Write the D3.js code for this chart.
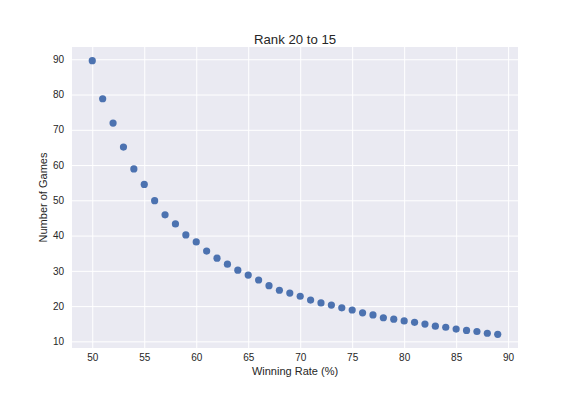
<!DOCTYPE html>
<html>
<head>
<meta charset="utf-8">
<script src="https://cdn.jsdelivr.net/npm/d3@7"></script>
<style>
  html, body { margin: 0; padding: 0; background: #ffffff; }
  svg { display: block; font-family: "Liberation Sans", Arial, sans-serif; }
</style>
</head>
<body>
<svg id="chart" width="576" height="396"></svg>
<script>
const title = "Rank 20 to 15";
const xLabel = "Winning Rate (%)";
const yLabel = "Number of Games";
const winRates = [50,51,52,53,54,55,56,57,58,59,60,61,62,63,64,65,66,67,68,69,
                  70,71,72,73,74,75,76,77,78,79,80,81,82,83,84,85,86,87,88,89];
const games = [89.6,78.8,71.9,65.1,58.9,54.5,49.9,45.9,43.3,40.2,
               38.2,35.6,33.6,31.9,30.2,28.8,27.4,25.8,24.5,23.7,
               22.8,21.7,20.9,20.3,19.5,18.9,18.1,17.5,16.7,16.3,
               15.8,15.4,14.9,14.3,14.0,13.5,13.1,12.8,12.3,12.0];
const xTicks = [50,55,60,65,70,75,80,85,90];
const yTicks = [10,20,30,40,50,60,70,80,90];

const svg = d3.select("#chart");
const L = 72, R = 518, T = 47, B = 348;

function padDomain(arr) {
  const lo = d3.min(arr), hi = d3.max(arr), p = (hi - lo) * 0.05;
  return [lo - p, hi + p];
}
const x = d3.scaleLinear().domain(padDomain(winRates)).range([L, R]);
const y = d3.scaleLinear().domain(padDomain(games)).range([B, T]);

svg.append("rect").attr("x", L).attr("y", T).attr("width", R - L).attr("height", B - T)
  .attr("fill", "#EAEAF2");

const gx = svg.append("g").attr("transform", `translate(0,${B})`)
  .call(d3.axisBottom(x).tickValues(xTicks).tickSize(-(B - T)).tickPadding(6).tickFormat(d3.format("d")));
const gy = svg.append("g").attr("transform", `translate(${L},0)`)
  .call(d3.axisLeft(y).tickValues(yTicks).tickSize(-(R - L)).tickPadding(8).tickFormat(d3.format("d")));
[gx, gy].forEach(g => {
  g.select(".domain").remove();
  g.selectAll(".tick line").attr("stroke", "#ffffff").attr("stroke-width", 1);
  g.selectAll(".tick text").attr("fill", "#262626").style("font-size", "10px")
    .style("font-family", "'Liberation Sans', Arial, sans-serif");
});

svg.append("g").selectAll("circle").data(winRates).join("circle")
  .attr("cx", d => x(d))
  .attr("cy", (d, i) => y(games[i]))
  .attr("r", 3.6)
  .attr("fill", "#4C72B0");

svg.append("text").attr("x", (L + R) / 2).attr("y", 44).attr("text-anchor", "middle")
  .attr("fill", "#262626").style("font-size", "13.2px").text(title);
svg.append("text").attr("x", (L + R) / 2).attr("y", 375).attr("text-anchor", "middle")
  .attr("fill", "#262626").style("font-size", "11px").text(xLabel);
svg.append("text").attr("transform", `translate(47,${(T + B) / 2}) rotate(-90)`)
  .attr("text-anchor", "middle").attr("fill", "#262626").style("font-size", "11px").text(yLabel);
</script>
</body>
</html>
